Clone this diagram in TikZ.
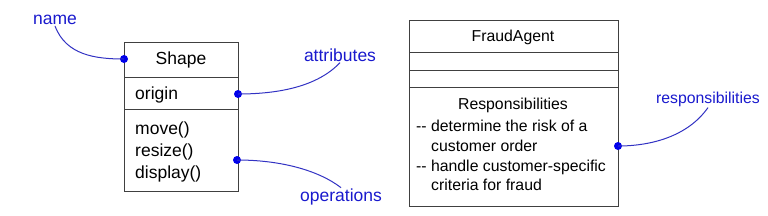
\documentclass[tikz,border=0pt]{standalone}
\usepackage{fontspec}
\setmainfont{Liberation Sans}
\definecolor{lblblue}{RGB}{25,25,205}
\definecolor{lineblue}{RGB}{50,50,195}
\definecolor{dotblue}{RGB}{0,0,235}
\begin{document}
\begin{tikzpicture}[x=1pt,y=-1pt,
  comp/.style={draw=black!75,line width=0.9pt,minimum width=114pt,inner sep=0pt,outer sep=0pt},
  fcomp/.style={draw=black!75,line width=0.9pt,minimum width=209pt,inner sep=0pt,outer sep=0pt},
  lbl/.style={text=lblblue,inner sep=1pt,font=\fontsize{17.5}{21}\selectfont},
  rlbl/.style={text=lblblue,inner sep=1pt,font=\fontsize{15.8}{19}\selectfont},
  dot/.style={circle,fill=dotblue,minimum size=8pt,inner sep=0pt},
  conn/.style={lineblue,line width=1pt},
  ltxt/.style={font=\fontsize{17.5}{22}\selectfont,inner sep=0pt},
  rtxt/.style={font=\fontsize{15.8}{19.5}\selectfont,inner sep=0pt}]
\useasboundingbox (0,0) rectangle (768,215);
% Shape class
\node[comp,minimum height=35pt] (sname) at (181,59.5) {};
\node[comp,minimum height=32pt] (sattr) at (181,93) {};
\node[comp,minimum height=82pt] (sops) at (181,150) {};
\node[ltxt] (tshape) at (181,60) {Shape};
\node[ltxt,anchor=base west] (torigin) at (135,99) {origin};
\node[ltxt,anchor=base west] (tmove) at (135,134) {move()};
\node[ltxt,anchor=base west] (tresize) at (135,156) {resize()};
\node[ltxt,anchor=base west] (tdisplay) at (135,178) {display()};
% FraudAgent class
\node[fcomp,minimum height=32pt] (fname) at (513.5,36) {};
\node[fcomp,minimum height=18pt] (fattr) at (513.5,61) {};
\node[fcomp,minimum height=17pt] (fops) at (513.5,78.5) {};
\node[fcomp,minimum height=119pt] (fresp) at (513.5,146.5) {};
\node[rtxt] (tfraud) at (513,37.5) {FraudAgent};
\node[rtxt] (tresp) at (513,105.5) {Responsibilities};
\node[rtxt,anchor=base west] (tl1) at (416,131.5) {-{}- determine the risk of a};
\node[rtxt,anchor=base west] (tl2) at (431,151.5) {customer order};
\node[rtxt,anchor=base west] (tl3) at (416,171.5) {-{}- handle customer-specific};
\node[rtxt,anchor=base west] (tl4) at (431,190) {criteria for fraud};
% labels
\node[lbl] (lname) at (55,20) {name};
\node[lbl] (lattr) at (340,55) {attributes};
\node[lbl] (lops) at (341,197) {operations};
\node[rlbl] (lresp) at (708,99) {responsibilities};
% dots
\node[dot] (dname) at (124,59) {};
\node[dot] (dattr) at (238,94) {};
\node[dot] (dops) at (237,160) {};
\node[dot] (dresp) at (618,146) {};
% connectors
\draw[conn] (lname.south) .. controls (66,55) and (95,59) .. (dname.center);
\draw[conn] (lattr.south) .. controls (318,86) and (280,94) .. (dattr.center);
\draw[conn] (lops.north) .. controls (318,170) and (280,160) .. (dops.center);
\draw[conn] (lresp.south) .. controls (688,136) and (652,146) .. (dresp.center);
\end{tikzpicture}
\end{document}
